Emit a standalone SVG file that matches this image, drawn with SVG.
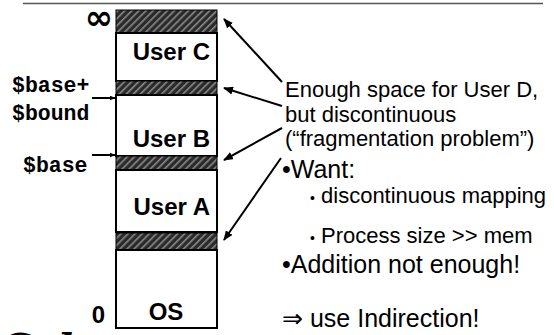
<svg xmlns="http://www.w3.org/2000/svg" width="554" height="335" viewBox="0 0 554 335">
<defs>
<pattern id="hatch" width="5" height="5" patternUnits="userSpaceOnUse" patternTransform="rotate(45)">
<rect width="5" height="5" fill="#2a2a2a"/>
<rect x="0" y="0" width="1.6" height="5" fill="#8a8a8a"/>
</pattern>
<marker id="ah" markerWidth="10" markerHeight="8" refX="9" refY="4" orient="auto" markerUnits="userSpaceOnUse">
<path d="M0,0 L10,4 L0,8 z" fill="#000"/>
</marker>
<marker id="sh" markerWidth="6" markerHeight="5" refX="5.5" refY="2.5" orient="auto" markerUnits="userSpaceOnUse">
<path d="M0,0 L6,2.5 L0,5 z" fill="#000"/>
</marker>
</defs>
<style>
.box{fill:#fff;stroke:#000;stroke-width:2}
.hat{fill:url(#hatch);stroke:#000;stroke-width:1}
.lbl{font-family:"Liberation Sans",Arial,sans-serif;font-weight:bold;font-size:24px;fill:#000}
.mono{font-family:"Liberation Mono","Courier New",monospace;font-weight:bold;font-size:21.5px;fill:#000}
.txt{font-family:"Liberation Sans",Arial,sans-serif;font-size:22px;fill:#000}
.big{font-family:"Liberation Sans",Arial,sans-serif;font-size:25px;fill:#000}
.conn{stroke:#000;stroke-width:2;fill:none}
</style>
<line x1="23" y1="3.5" x2="543" y2="3.5" stroke="#555" stroke-width="1.5"/>
<g id="col">
<g id="hatch-top"><rect class="hat" x="116" y="10" width="101" height="23"/></g>
<g id="userC"><rect class="box" x="116" y="33" width="101" height="48"/><text class="lbl" x="210" y="60" text-anchor="end">User C</text></g>
<g id="hatch-cb"><rect class="hat" x="116" y="81" width="101" height="14"/></g>
<g id="userB"><rect class="box" x="116" y="95" width="101" height="61"/><text class="lbl" x="210" y="147" text-anchor="end">User B</text></g>
<g id="hatch-ba"><rect class="hat" x="116" y="156" width="101" height="14"/></g>
<g id="userA"><rect class="box" x="116" y="170" width="101" height="62"/><text class="lbl" x="210" y="215" text-anchor="end">User A</text></g>
<g id="hatch-ao"><rect class="hat" x="116" y="233" width="101" height="17"/></g>
<g id="os"><rect class="box" x="116" y="250" width="101" height="78"/><text class="lbl" x="166" y="320" text-anchor="middle">OS</text></g>
</g>
<g id="axis-labels">
<text x="113" y="29" text-anchor="end" font-family="'DejaVu Sans',sans-serif" font-weight="bold" font-size="34" fill="#000">∞</text>
<text class="lbl" x="105" y="323" text-anchor="end">0</text>
<text class="mono" x="12" y="92">$base+</text>
<text class="mono" x="12" y="120">$bound</text>
<text class="mono" x="23" y="172">$base</text>
</g>
<g id="notes">
<text class="txt" x="285" y="97">Enough space for User D,</text>
<text class="txt" x="285" y="122">but discontinuous</text>
<text class="txt" x="285" y="146">(“fragmentation problem”)</text>
<text class="big" x="282" y="178">•Want:</text>
<text class="txt" x="310" y="203"><tspan font-size="14">•</tspan> discontinuous mapping</text>
<text class="txt" x="310" y="243"><tspan font-size="14">•</tspan> Process size &gt;&gt; mem</text>
<text class="big" x="282" y="273">•Addition not enough!</text>
<text class="big" x="282" y="327">⇒ use Indirection!</text>
</g>
<g id="connectors">
<line class="conn" x1="92" y1="98" x2="115" y2="98" stroke-width="1.5" marker-end="url(#sh)"/>
<line class="conn" x1="92" y1="155" x2="115" y2="155" stroke-width="1.5" marker-end="url(#sh)"/>
<line class="conn" x1="282" y1="82" x2="224" y2="19" marker-end="url(#ah)"/>
<line class="conn" x1="282" y1="106" x2="224" y2="88" marker-end="url(#ah)"/>
<line class="conn" x1="282" y1="128" x2="224" y2="160" marker-end="url(#ah)"/>
<line class="conn" x1="281" y1="158" x2="224" y2="240" marker-end="url(#ah)"/>
</g>
<g id="logo">
<text x="0" y="362" font-family="'DejaVu Serif',serif" font-style="italic" font-weight="bold" font-size="40" fill="#000">Cal</text>
</g>
</svg>
